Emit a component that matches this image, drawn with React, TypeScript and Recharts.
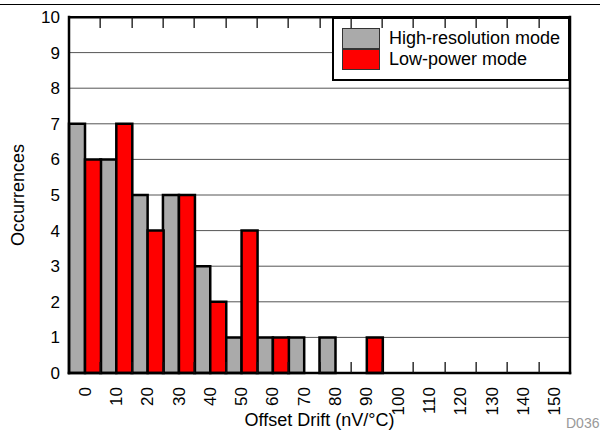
import { BarChart, Bar, XAxis, YAxis, CartesianGrid, Legend, Label } from "recharts";

const categories = ["0", "10", "20", "30", "40", "50", "60", "70", "80", "90", "100", "110", "120", "130", "140", "150"];
const highRes = [7, 6, 5, 5, 3, 1, 1, 1, 1, 0, 0, 0, 0, 0, 0, 0];
const lowPower = [6, 7, 4, 5, 2, 4, 1, 0, 0, 1, 0, 0, 0, 0, 0, 0];
const yTicks = [0, 1, 2, 3, 4, 5, 6, 7, 8, 9, 10];

const data = categories.map((cat, i) => ({ cat, high: highRes[i], low: lowPower[i] }));

const W = 600;
const H = 435;
const LEFT = 69;
const RIGHT = 30;
const TOP = 17;
const XAXIS_H = 62;
const PLOT_W = W - LEFT - RIGHT;
const PLOT_B = H - XAXIS_H;
const BAND = PLOT_W / categories.length;
const TICK = 11;
const axisStyle = { stroke: "#000", strokeWidth: 2.5, strokeLinecap: "square" as const };

function BottomTick(props: any) {
  const x = Number(props.x);
  const y = Number(props.y);
  return (
    <text
      transform={`translate(${x},${y + 14}) rotate(-90)`}
      textAnchor="end"
      dy="0.35em"
      fontSize={17}
      fill="#000"
    >
      {props.payload.value}
    </text>
  );
}

function LegendBox({ payload }: any) {
  return (
    <div
      style={{
        width: 238,
        height: 64,
        boxSizing: "border-box",
        border: "2.5px solid #000",
        background: "#fff",
        padding: "9px 0 0 8px",
      }}
    >
      {(payload || []).map((item: any) => (
        <div key={item.value} style={{ display: "flex", alignItems: "center", height: 21 }}>
          <span
            style={{
              display: "inline-block",
              width: 38,
              height: 21,
              background: item.color,
              boxSizing: "border-box",
              border: "1px solid #333",
            }}
          />
          <span style={{ marginLeft: 9, fontSize: 18, color: "#000" }}>{item.value}</span>
        </div>
      ))}
    </div>
  );
}

// inward frame ticks between category bands, plus the heavy top border
function FrameOverlay() {
  const bounds = categories.slice(0, -1).map((_, i) => Math.round(LEFT + (i + 1) * BAND));
  return (
    <svg width={W} height={H} style={{ position: "absolute", left: 0, top: 0, pointerEvents: "none" }}>
      <rect x={LEFT - 1} y={TOP - 1} width={PLOT_W + 2} height={2.5} fill="#000" />
      {bounds.map((bx) => (
        <g key={bx}>
          <rect x={bx - 0.5} y={TOP} width={1.3} height={TICK} fill="#111" />
          <rect x={bx - 0.5} y={PLOT_B - TICK} width={1.3} height={TICK} fill="#111" />
        </g>
      ))}
    </svg>
  );
}

export default function App() {
  return (
    <div
      style={{
        position: "absolute",
        left: 0,
        top: 0,
        width: W,
        height: H,
        background: "#fff",
        fontFamily: "'Liberation Sans', Arial, Helvetica, sans-serif",
      }}
    >
      <div style={{ position: "absolute", left: 0, top: 4, width: W, height: 1, background: "#000" }} />
      <BarChart
        width={W}
        height={H}
        data={data}
        margin={{ top: TOP, right: 0, left: 0, bottom: 0 }}
        barCategoryGap={0}
        barGap={0}
      >
        <CartesianGrid vertical={false} stroke="#555" strokeWidth={1} />
        <XAxis
          dataKey="cat"
          height={XAXIS_H}
          interval={0}
          tickLine={false}
          tickSize={0}
          tickMargin={0}
          tick={<BottomTick />}
          axisLine={axisStyle}
        >
          <Label value="Offset Drift (nV/°C)" position="insideBottom" offset={9} fill="#000" fontSize={18} />
        </XAxis>
        <YAxis
          width={LEFT}
          domain={[0, 10]}
          ticks={yTicks}
          interval={0}
          tickLine={false}
          tickSize={0}
          tickMargin={9}
          tick={{ fill: "#000", fontSize: 17 }}
          axisLine={axisStyle}
        >
          <Label
            value="Occurrences"
            angle={-90}
            position="insideLeft"
            offset={18}
            fill="#000"
            fontSize={18}
            style={{ textAnchor: "middle" }}
          />
        </YAxis>
        <YAxis
          yAxisId="right"
          orientation="right"
          width={RIGHT}
          domain={[0, 10]}
          tick={false}
          tickLine={false}
          axisLine={axisStyle}
        />
        <Legend
          layout="horizontal"
          verticalAlign="middle"
          align="center"
          content={<LegendBox />}
          wrapperStyle={{ left: 332, top: TOP, width: 238 }}
        />
        <Bar
          dataKey="high"
          name="High-resolution mode"
          fill="#aaaaaa"
          stroke="#000"
          strokeWidth={2.5}
          isAnimationActive={false}
        />
        <Bar
          dataKey="low"
          name="Low-power mode"
          fill="#ff0000"
          stroke="#000"
          strokeWidth={2.5}
          isAnimationActive={false}
        />
      </BarChart>
      <FrameOverlay />
      <div style={{ position: "absolute", left: 566, top: 415, fontSize: 14, lineHeight: "16px", color: "#999" }}>D036</div>
    </div>
  );
}
